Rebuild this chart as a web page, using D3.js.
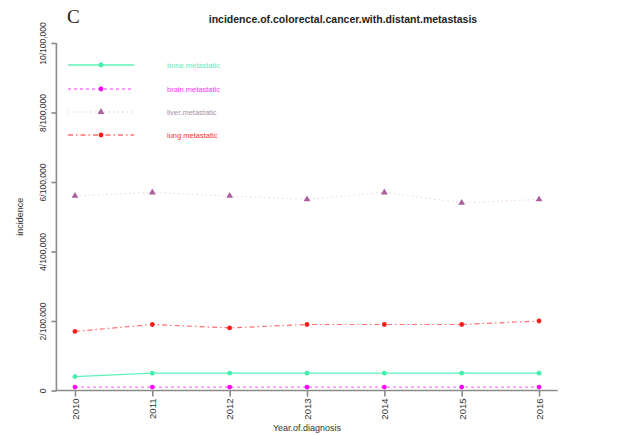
<!DOCTYPE html>
<html>
<head>
<meta charset="utf-8">
<script src="https://cdn.jsdelivr.net/npm/d3@7"></script>
<style>
  body { margin: 0; background: #fff; }
  text { font-family: "Liberation Sans", Arial, sans-serif; }
</style>
</head>
<body>
<div id="chart"></div>
<script>
// values per 100,000
const years = [2010, 2011, 2012, 2013, 2014, 2015, 2016];
const bone = [0.4, 0.5, 0.5, 0.5, 0.5, 0.5, 0.5];
const brain = [0.1, 0.1, 0.1, 0.1, 0.1, 0.1, 0.1];
const liver = [5.6, 5.7, 5.6, 5.5, 5.7, 5.4, 5.5];
const lung = [1.7, 1.9, 1.8, 1.9, 1.9, 1.9, 2.0];
const yTicks = [0, 2, 4, 6, 8, 10];
const yTickLabels = ["0", "2/100,000", "4/100,000", "6/100,000", "8/100,000", "10/100,000"];
const seriesNames = ["bone.metastatic", "brain.metastatic", "liver.metastatic", "lung.metastatic"];

const series = [
    { name: seriesNames[0], values: bone, color: "#3ef0a8", line: "#5ef2b6", text: "#5ef0b8", dash: null, shape: "circle" },
    { name: seriesNames[1], values: brain, color: "#ff00ff", line: "#ff77ff", text: "#ff33ff", dash: "3,3", shape: "circle" },
    { name: seriesNames[2], values: liver, color: "#a8609e", line: "#f2d6e6", text: "#a890a8", dash: "1.5,3", shape: "triangle" },
    { name: seriesNames[3], values: lung, color: "#ff1a1a", line: "#ff7070", text: "#ff3030", dash: "5,3,1.5,3", shape: "circle" }
];

const W = 633, H = 435;
const plot = { left: 56.4, right: 557.6, top: 43, bottom: 390.5 };

const svg = d3.select("#chart").append("svg")
    .attr("width", W)
    .attr("height", H);

const x = d3.scaleLinear()
    .domain([2009.76, 2016.24])
    .range([plot.left, plot.right]);
const y = d3.scaleLinear()
    .domain([0, 10])
    .range([plot.bottom, plot.top]);

// box (left + bottom)
svg.append("path")
    .attr("d", `M${plot.left},${plot.top}V${plot.bottom}H${plot.right}`)
    .attr("fill", "none")
    .attr("stroke", "#8a8a8a")
    .attr("stroke-width", 1.6);

// x axis
const xAxis = svg.append("g")
    .attr("transform", `translate(0,${plot.bottom})`)
    .call(d3.axisBottom(x).tickValues(years).tickFormat(d3.format("d")).tickSize(6).tickPadding(3));
xAxis.select(".domain").remove();
xAxis.selectAll("line").attr("stroke", "#8a8a8a").attr("stroke-width", 1.6);
xAxis.selectAll("text")
    .attr("transform", "rotate(-90)")
    .attr("x", -8)
    .attr("y", 0)
    .attr("dy", "0.35em")
    .attr("text-anchor", "end")
    .attr("font-size", 9.5)
    .attr("fill", "#333");

// y axis
const yAxis = svg.append("g")
    .attr("transform", `translate(${plot.left},0)`)
    .call(d3.axisLeft(y).tickValues(yTicks).tickFormat((d, i) => yTickLabels[i]).tickSize(5));
yAxis.select(".domain").remove();
yAxis.selectAll("line").attr("stroke", "#8a8a8a").attr("stroke-width", 1.6);
yAxis.selectAll("text")
    .attr("transform", "translate(-10,0) rotate(-90)")
    .attr("x", 0)
    .attr("y", 0)
    .attr("dy", 0)
    .attr("text-anchor", "middle")
    .attr("font-size", 8.5)
    .attr("fill", "#333");

// axis titles
svg.append("text")
    .attr("x", (plot.left + plot.right) / 2)
    .attr("y", 431)
    .attr("text-anchor", "middle")
    .attr("font-size", 9)
    .attr("fill", "#333")
    .text("Year.of.diagnosis");
svg.append("text")
    .attr("transform", `translate(23,${(plot.top + plot.bottom) / 2}) rotate(-90)`)
    .attr("text-anchor", "middle")
    .attr("font-size", 9)
    .attr("fill", "#333")
    .text("incidence");

// title and panel letter
svg.append("text")
    .attr("x", 343)
    .attr("y", 23)
    .attr("text-anchor", "middle")
    .attr("font-size", 10.5)
    .attr("font-weight", "bold")
    .attr("fill", "#222")
    .text("incidence.of.colorectal.cancer.with.distant.metastasis");
svg.append("text")
    .attr("x", 67)
    .attr("y", 23)
    .style("font-family", "'Liberation Serif', 'DejaVu Serif', serif")
    .attr("font-size", 19)
    .attr("fill", "#222")
    .text("C");

const line = d3.line()
    .x((d, i) => x(years[i]))
    .y(d => y(d));

function marker(g, shape, cx, cy, color) {
    if (shape === "triangle") {
        g.append("path")
            .attr("d", d3.symbol(d3.symbolTriangle, 20)())
            .attr("transform", `translate(${cx},${cy})`)
            .attr("fill", color);
    } else {
        g.append("circle")
            .attr("cx", cx)
            .attr("cy", cy)
            .attr("r", 2.4)
            .attr("fill", color);
    }
}

// lines and points
series.forEach(s => {
    const g = svg.append("g");
    g.append("path")
        .datum(s.values)
        .attr("d", line)
        .attr("fill", "none")
        .attr("stroke", s.line)
        .attr("stroke-width", 1.2)
        .attr("stroke-dasharray", s.dash);
    s.values.forEach((v, i) => marker(g, s.shape, x(years[i]), y(v), s.color));
});

// legend
const legendY = [65, 89, 112, 135];
series.forEach((s, i) => {
    const g = svg.append("g");
    g.append("line")
        .attr("x1", 68).attr("x2", 134)
        .attr("y1", legendY[i]).attr("y2", legendY[i])
        .attr("stroke", s.line)
        .attr("stroke-width", 1.4)
        .attr("stroke-dasharray", s.dash);
    marker(g, s.shape, 101, legendY[i], s.color);
    g.append("text")
        .attr("x", 167)
        .attr("y", legendY[i])
        .attr("dy", "0.35em")
        .attr("font-size", 7.5)
        .attr("fill", s.text)
        .text(s.name);
});
</script>
</body>
</html>
